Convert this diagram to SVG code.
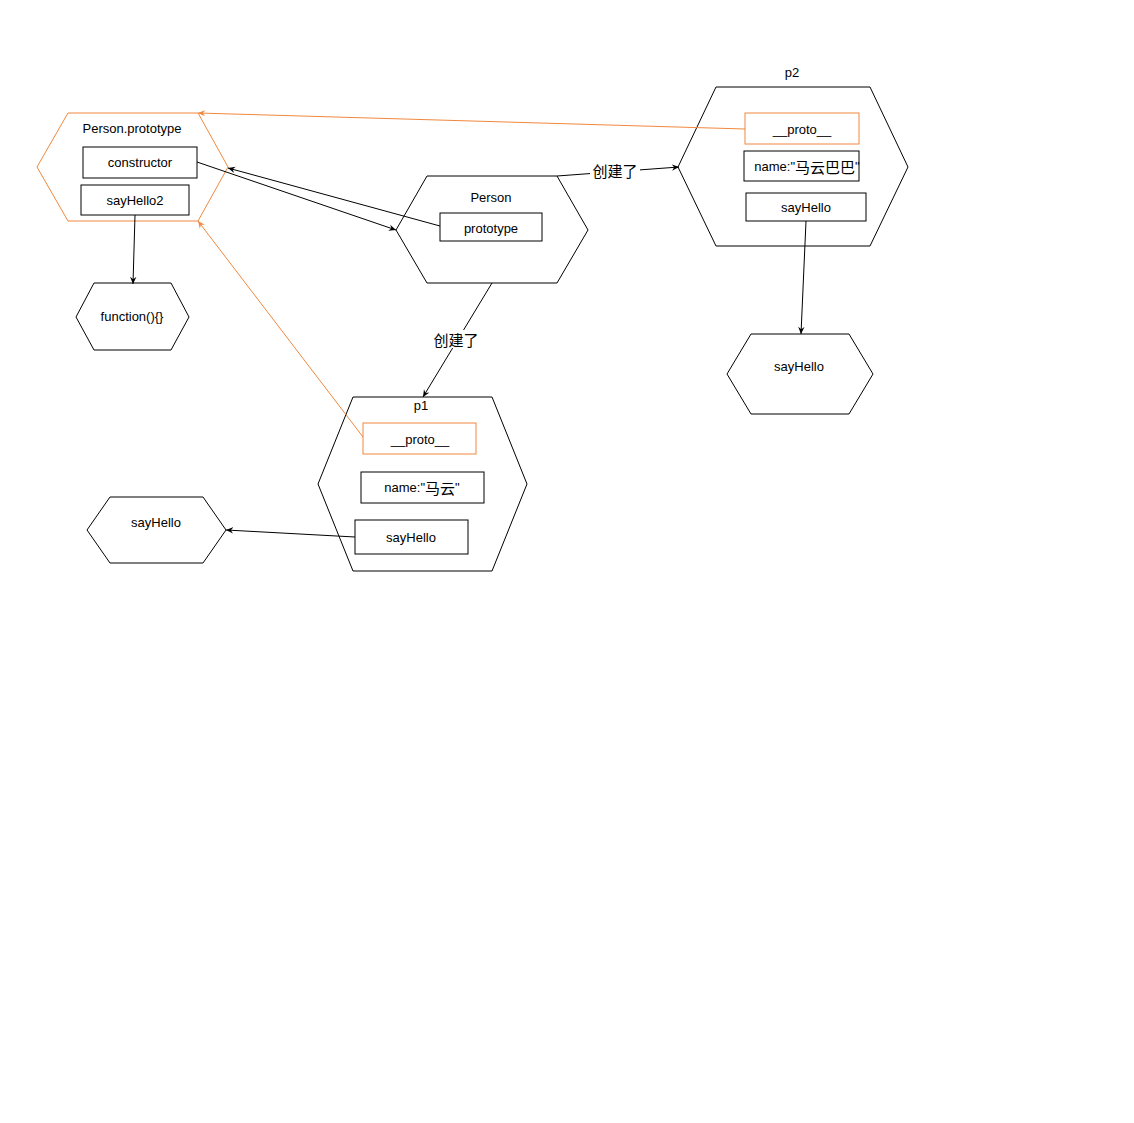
<svg xmlns="http://www.w3.org/2000/svg" width="1134" height="1123" viewBox="0 0 1134 1123">
<style>
text{font-family:"Liberation Sans",Arial,"Noto Sans CJK SC",sans-serif;font-size:13px;fill:#000;text-anchor:middle;dominant-baseline:central}
.cjk{font-family:"Noto Sans CJK SC","Liberation Sans",sans-serif;font-size:15px}
.hex{fill:#fff;stroke:#000;stroke-width:1}
.hexo{fill:#fff;stroke:#f0883e;stroke-width:1}
.box{fill:#fff;stroke:#000;stroke-width:1}
.boxo{fill:#fff;stroke:#f0883e;stroke-width:1}
.ln{fill:none;stroke:#000;stroke-width:1;marker-end:url(#a)}
.lno{fill:none;stroke:#f0883e;stroke-width:1;marker-end:url(#ao)}
.lbl{fill:#fff;stroke:none}
</style>
<defs>
<marker id="a" viewBox="0 0 10 10" refX="9" refY="5" markerWidth="8" markerHeight="8" markerUnits="userSpaceOnUse" orient="auto">
<path d="M0,1 L9,5 L0,9 L3,5 Z" fill="#000"/>
</marker>
<marker id="ao" viewBox="0 0 10 10" refX="9" refY="5" markerWidth="8" markerHeight="8" markerUnits="userSpaceOnUse" orient="auto">
<path d="M0,1 L9,5 L0,9 L3,5 Z" fill="#f0883e"/>
</marker>
</defs>
<rect width="1134" height="1123" fill="#fff"/>

<g id="person-prototype">
<polygon class="hexo" points="68,113 198,113 228,167 198,221 68,221 37,167"/>
<text x="132" y="128">Person.prototype</text>
<rect class="box" x="83" y="147" width="114" height="31"/>
<text x="140" y="162">constructor</text>
<rect class="box" x="81" y="185" width="108" height="30"/>
<text x="135" y="200">sayHello2</text>
</g>

<g id="function-node">
<polygon class="hex" points="94,283 171,283 189,317 171,350 94,350 76,317"/>
<text x="132" y="316">function(){}</text>
</g>

<g id="person">
<polygon class="hex" points="427,176 557,176 588,230 557,283 427,283 396,230"/>
<text x="491" y="197">Person</text>
<rect class="box" x="440" y="213" width="102" height="28"/>
<text x="491" y="228">prototype</text>
</g>

<g id="p2">
<polygon class="hex" points="716,87 870,87 908,167 870,246 716,246 678,167"/>
<text x="792" y="72">p2</text>
<rect class="boxo" x="745" y="113" width="114" height="31"/>
<text x="802" y="129">__proto__</text>
<rect class="box" x="744" y="151" width="115" height="30"/>
<text x="807" y="166">name:"<tspan class="cjk">马云巴巴</tspan>"</text>
<rect class="box" x="746" y="193" width="120" height="28"/>
<text x="806" y="207">sayHello</text>
</g>

<g id="sayhello-p2">
<polygon class="hex" points="751,334 849,334 873,374 849,414 751,414 727,374"/>
<text x="799" y="366">sayHello</text>
</g>

<g id="p1">
<polygon class="hex" points="353,397 492,397 527,484 492,571 353,571 318,484"/>
<text x="421" y="405">p1</text>
<rect class="boxo" x="363" y="423" width="113" height="31"/>
<text x="420" y="439">__proto__</text>
<rect class="box" x="361" y="472" width="123" height="31"/>
<text x="422" y="487">name:"<tspan class="cjk">马云</tspan>"</text>
<rect class="box" x="355" y="520" width="113" height="34"/>
<text x="411" y="537">sayHello</text>
</g>

<g id="sayhello-p1">
<polygon class="hex" points="110,497 203,497 226,530 203,563 110,563 87,530"/>
<text x="156" y="522">sayHello</text>
</g>

<g id="connectors">
<path class="ln" d="M135,215 L133,284"/>
<path class="ln" d="M197,162 L396,230"/>
<path class="ln" d="M440,226 L228,168"/>
<path class="lno" d="M745,129 L198,113"/>
<path class="lno" d="M363,437 L198,221"/>
<path class="ln" d="M557,176 L679,167"/>
<rect class="lbl" x="590" y="161" width="50" height="18"/>
<text class="cjk" x="615" y="170">创建了</text>
<path class="ln" d="M492,283 L423,397"/>
<rect class="lbl" x="431" y="330" width="50" height="18"/>
<text class="cjk" x="456" y="339">创建了</text>
<path class="ln" d="M806,221 L801,334"/>
<path class="ln" d="M355,537 L226,530"/>
</g>
</svg>
